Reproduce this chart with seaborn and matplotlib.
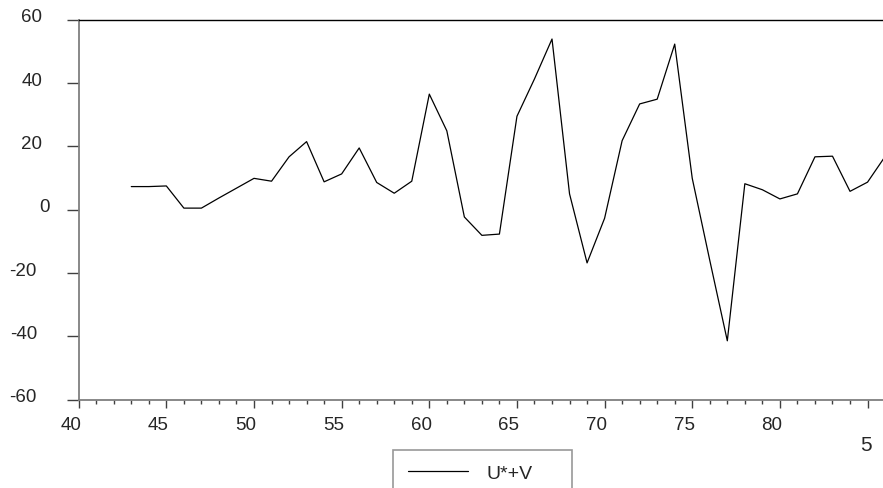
import pandas as pd
import matplotlib
matplotlib.use("Agg")
import matplotlib.pyplot as plt
import matplotlib.transforms as mtransforms
import seaborn as sns

# series
years = [43, 44, 45, 46, 47, 48, 49, 50, 51, 52, 53, 54, 55, 56, 57, 58, 59,
         60, 61, 62, 63, 64, 65, 66, 67, 68, 69, 70, 71, 72, 73, 74, 75, 76,
         77, 78, 79, 80, 81, 82, 83, 84, 85, 86]
uv = [7.3, 7.3, 7.5, 0.5, 0.5, 3.7, 6.8, 9.9, 9.0, 16.7, 21.5, 8.8, 11.3, 19.5,
      8.6, 5.2, 9.0, 36.5, 24.9, -2.3, -8.1, -7.7, 29.5, 41.3, 53.9, 5.0,
      -16.8, -2.7, 21.8, 33.4, 34.9, 52.3, 9.9, -16.0, -41.4, 8.2, 6.3, 3.4,
      5.0, 16.7, 16.9, 5.8, 8.7, 16.8]
series_name = "U*+V"

x_ticks = [40, 45, 50, 55, 60, 65, 70, 75, 80, 85]
x_tick_labels = ["40", "45", "50", "55", "60", "65", "70", "75", "80", ""]
y_ticks = [60, 40, 20, 0, -20, -40, -60]
y_tick_labels = ["60", "40", "20", "0", "-20", "-40", "-60"]

df = pd.DataFrame({"year": years, "value": uv})

sns.set_style("white")
plt.rcParams["font.family"] = ["Liberation Sans", "DejaVu Sans"]

W, H = 883, 489
fig = plt.figure(figsize=(W / 100, H / 100), dpi=100)
ax = fig.add_axes([78.7 / W, 1 - 400.7 / H, (W - 78.7) / W, 380 / H])

sns.lineplot(data=df, x="year", y="value", color="black", linewidth=0.9,
             ax=ax, label=series_name)

ax.set_xlim(40, 40 + (W - 78.7) / 17.53)
ax.set_ylim(-60, 60)
ax.set_xlabel("")
ax.set_ylabel("")

gray = "#7f7f7f"
ax.spines["right"].set_visible(False)
ax.spines["top"].set_color("black")
ax.spines["top"].set_linewidth(1.0)
ax.spines["left"].set_color(gray)
ax.spines["left"].set_linewidth(1.3)
ax.spines["bottom"].set_color(gray)
ax.spines["bottom"].set_linewidth(1.3)

ax.set_xticks(x_ticks)
ax.set_xticks(range(40, 86), minor=True)
ax.set_yticks(y_ticks)
ax.tick_params(axis="x", which="major", direction="out", length=5.8,
               width=1.0, color="#404040", bottom=True, top=False,
               labelbottom=False)
ax.tick_params(axis="x", which="minor", direction="out", length=2.9,
               width=1.0, color="#404040", bottom=True, top=False)
ax.tick_params(axis="y", which="major", direction="out", length=8.6,
               width=1.0, color="#404040", left=True, right=False,
               labelleft=False)
ax.tick_params(axis="y", which="minor", left=False)

# tick labels drawn by hand, the original sits them slightly off the ticks
x_off = mtransforms.ScaledTranslation(-8 / 100, -16 / 100, fig.dpi_scale_trans)
for xt, lab in zip(x_ticks, x_tick_labels):
    ax.text(xt, 0, lab, transform=ax.get_xaxis_transform() + x_off,
            ha="center", va="top", fontsize=13.5)

ylab_tr = mtransforms.blended_transform_factory(fig.transFigure, ax.transData)
y_up = mtransforms.ScaledTranslation(0, 3 / 100, fig.dpi_scale_trans)
for yt, lab in zip(y_ticks, y_tick_labels):
    if yt > 0:
        right = 42
    elif yt == 0:
        right = 50
    else:
        right = 37
    ax.text(right / W, yt, lab, transform=ylab_tr + y_up,
            ha="right", va="center", fontsize=13.5)

fig.text(865.7 / W, 1 - 446 / H, "5", ha="center", va="center", fontsize=15)

leg = ax.legend(loc="upper left", bbox_to_anchor=(393.3 / W, 1 - 455.7 / H, 178.4 / W, 0.01),
                bbox_transform=fig.transFigure, mode="expand", fontsize=14,
                frameon=True, fancybox=False, borderpad=0.75, handlelength=3.1,
                handletextpad=0.95, borderaxespad=0)
leg.get_frame().set_edgecolor(gray)
leg.get_frame().set_linewidth(1.2)
for h in leg.get_lines():
    h.set_linewidth(0.9)

fig.savefig("out.png", dpi=100)
